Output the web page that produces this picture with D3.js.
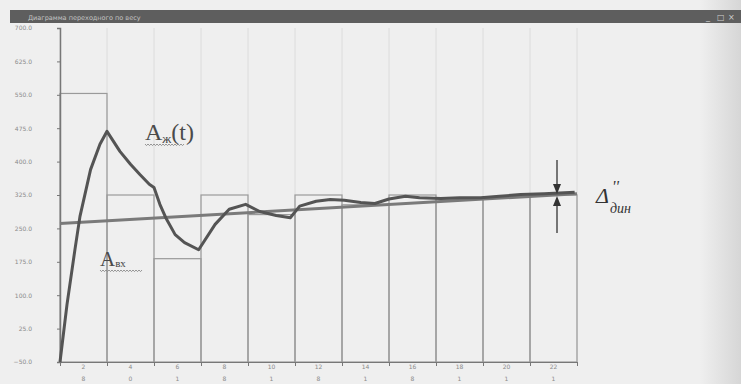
<!DOCTYPE html>
<html><head><meta charset="utf-8">
<script src="https://cdn.jsdelivr.net/npm/d3@7"></script>
<style>
html,body{margin:0;padding:0;background:#efefef;}
svg{display:block;}
.axis text{font-family:"DejaVu Sans",sans-serif;font-size:6px;fill:#8a8a8a;}
.axis path,.axis line{stroke:#777;}
</style></head>
<body>
<script>
// ---- data ----
const categories = ["2","4","6","8","10","12","14","16","18","20","22"];
const categoryRow2 = ["8","0","1","8","1","8","1","8","1","1","1"];
const inputValues = [553, 325, 182, 325, 281, 325, 303, 325, 316, 320, 325]; // A_вх
const curveT = [0, 0.3, 0.64, 0.85, 1.3, 1.7, 2.0, 2.55, 3.0, 3.4, 3.8, 4.0, 4.25, 4.5, 4.9, 5.3, 5.9, 6.6, 7.2, 7.9, 8.5, 9.2, 9.8, 10.2, 10.9, 11.5, 12.1, 12.8, 13.4, 14.0, 14.7, 15.3, 16.2, 17.0, 17.9, 18.7, 19.6, 20.6, 21.9];
const curveV = [-50, 80, 204, 277, 382, 439, 468, 423, 394, 371, 349, 342, 304, 274, 236, 218, 202, 259, 293, 304, 288, 279, 274, 300, 311, 315, 313, 308, 306, 316, 322, 319, 317, 319, 319, 322, 326, 328, 331]; // A_ж(t)
const trendT = [0, 22];
const trendV = [261, 328];
const yTicks = [-50, 25, 100, 175, 250, 325, 400, 475, 550, 625, 700];
const title = "Диаграмма переходного по весу";

// ---- drawing ----
const W = 741, H = 384;
const svg = d3.select("body").append("svg").attr("width", W).attr("height", H);

const defs = svg.append("defs");
const g1 = defs.append("linearGradient").attr("id","edge").attr("x1","0").attr("x2","1");
g1.append("stop").attr("offset","0").attr("stop-color","#efefef");
g1.append("stop").attr("offset","1").attr("stop-color","#d6d6d6");
svg.append("rect").attr("width",W).attr("height",H).attr("fill","#efefef");
svg.append("rect").attr("x",700).attr("y",0).attr("width",41).attr("height",H).attr("fill","url(#edge)");

// title bar
svg.append("rect").attr("x",10).attr("y",10).attr("width",731).attr("height",13).attr("fill","#5e5e5e");
svg.append("text").attr("x",28).attr("y",19.5).attr("fill","#c4c4c4")
  .style("font-family","DejaVu Sans, sans-serif").style("font-size","6.5px").text(title);
["_","□","×"].forEach((s,i)=>{
  svg.append("text").attr("x",706+i*11).attr("y",20).attr("fill","#cfcfcf")
    .style("font-family","DejaVu Sans, sans-serif").style("font-size","8px").text(s);
});

const x = d3.scaleBand().domain(categories).range([60, 577]).padding(0);
const xt = d3.scaleLinear().domain([0, 22]).range([60, 577]);
const y = d3.scaleLinear().domain([-50, 700]).range([362, 28]);

// vertical grid
svg.append("g").selectAll("line").data(d3.range(0, 23, 2)).join("line")
  .attr("x1", d => xt(d)).attr("x2", d => xt(d))
  .attr("y1", y(700)).attr("y2", y(-50))
  .attr("stroke", "#dcdcdc").attr("stroke-width", 1);

// input bars (outlined steps)
svg.append("g").selectAll("rect").data(categories).join("rect")
  .attr("x", d => x(d)).attr("width", x.bandwidth())
  .attr("y", (d,i) => y(inputValues[i]))
  .attr("height", (d,i) => y(-50) - y(inputValues[i]))
  .attr("fill", "none").attr("stroke", "#9a9a9a").attr("stroke-width", 1.2);

// axes
const yAxis = svg.append("g").attr("class","axis").attr("transform","translate(60,0)")
  .call(d3.axisLeft(y).tickValues(yTicks).tickFormat(d3.format(".1f")).tickSize(3).tickPadding(25));
yAxis.select(".domain").attr("stroke","#666").attr("stroke-width",1.5);
yAxis.selectAll(".tick line").attr("stroke","#aaa");

const xTicksAxis = svg.append("g").attr("class","axis").attr("transform",`translate(0,${y(-50)})`)
  .call(d3.axisBottom(xt).tickValues(d3.range(0,23,2)).tickFormat("").tickSize(4));
xTicksAxis.select(".domain").attr("stroke","#999");
xTicksAxis.selectAll(".tick line").attr("stroke","#777");

const xLab1 = svg.append("g").attr("class","axis").attr("transform",`translate(0,${y(-50)})`)
  .call(d3.axisBottom(x).tickSize(0).tickPadding(3));
xLab1.select(".domain").remove();
const xLab2 = svg.append("g").attr("class","axis").attr("transform",`translate(0,${y(-50)+12})`)
  .call(d3.axisBottom(x).tickSize(0).tickPadding(3).tickFormat((d,i)=>categoryRow2[i]));
xLab2.select(".domain").remove();

// trend line
svg.append("path").datum(trendT.map((t,i)=>[t,trendV[i]]))
  .attr("d", d3.line().x(d=>xt(d[0])).y(d=>y(d[1])))
  .attr("stroke","#7a7a7a").attr("stroke-width",3).attr("fill","none");

// response curve
svg.append("path").datum(curveT.map((t,i)=>[t,curveV[i]]))
  .attr("d", d3.line().x(d=>xt(d[0])).y(d=>y(d[1])))
  .attr("stroke","#545454").attr("stroke-width",3).attr("fill","none")
  .attr("stroke-linejoin","round");

// annotations
const serif = "Liberation Serif, DejaVu Serif, serif";
function wavy(x0, x1, yy){
  let d = `M${x0},${yy}`;
  for (let xx = x0; xx < x1; xx += 3) d += `L${xx+1.5},${yy+1.6}L${xx+3},${yy}`;
  svg.append("path").attr("d", d).attr("stroke","#8a8a8a").attr("stroke-width",0.9).attr("fill","none");
}
const aj = svg.append("text").attr("x",145).attr("y",140).attr("fill","#4a4a4a").style("font-family",serif);
aj.append("tspan").style("font-size","24px").text("A");
aj.append("tspan").style("font-size","13px").attr("dy",3).text("ж");
aj.append("tspan").style("font-size","24px").attr("dy",-3).text("(t)");
wavy(145, 184, 144);

const ab = svg.append("text").attr("x",100).attr("y",266).attr("fill","#4a4a4a").style("font-family",serif);
ab.append("tspan").style("font-size","21px").text("A");
ab.append("tspan").style("font-size","11px").attr("dy",1).text("вх");
wavy(100, 140, 270);

// delta arrows
const ax = 557;
const yTop = 194, yBot = 196;
svg.append("line").attr("x1",ax).attr("x2",ax).attr("y1",160).attr("y2",yTop-6).attr("stroke","#333").attr("stroke-width",1.3);
svg.append("path").attr("d",`M${ax-4},${yTop-10}L${ax+4},${yTop-10}L${ax},${yTop}Z`).attr("fill","#333");
svg.append("line").attr("x1",ax).attr("x2",ax).attr("y1",yBot+6).attr("y2",233).attr("stroke","#333").attr("stroke-width",1.3);
svg.append("path").attr("d",`M${ax-4},${yBot+10}L${ax+4},${yBot+10}L${ax},${yBot}Z`).attr("fill","#333");

svg.append("text").attr("x",596).attr("y",203).attr("fill","#333").style("font-family",serif)
  .style("font-style","italic").style("font-size","22px").text("Δ");
svg.append("text").attr("x",612).attr("y",192).attr("fill","#333").style("font-family",serif)
  .style("font-style","italic").style("font-size","16px").text("''");
svg.append("text").attr("x",610).attr("y",213).attr("fill","#333").style("font-family",serif)
  .style("font-style","italic").style("font-size","14px").text("дин");
</script>
</body></html>
